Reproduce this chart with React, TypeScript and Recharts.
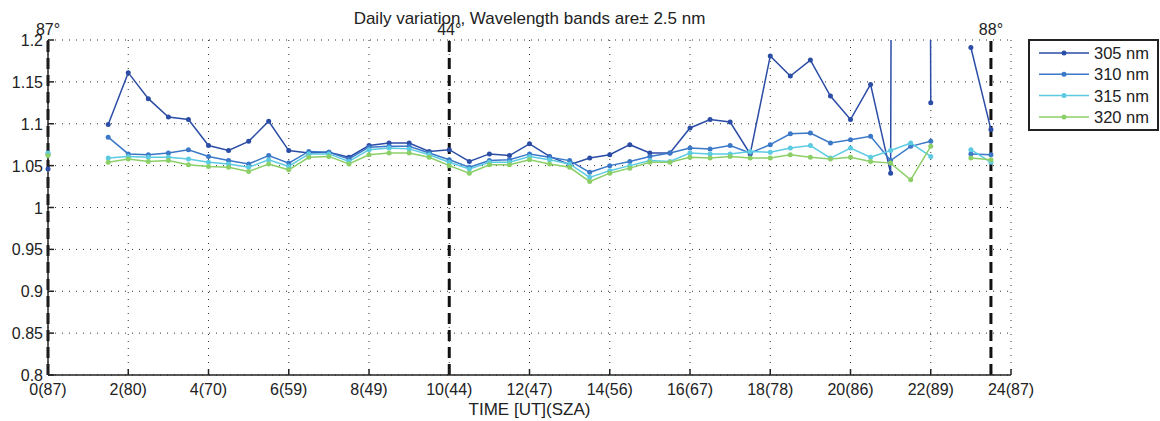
import React from 'react';
import {
  LineChart,
  Line,
  XAxis,
  YAxis,
  CartesianGrid,
  ReferenceLine,
} from 'recharts';

// time of day [UT], half-hour steps
const hours = [
  0, 0.5, 1, 1.5, 2, 2.5, 3, 3.5, 4, 4.5, 5, 5.5, 6, 6.5, 7, 7.5,
  8, 8.5, 9, 9.5, 10, 10.5, 11, 11.5, 12, 12.5, 13, 13.5, 14, 14.5, 15, 15.5,
  16, 16.5, 17, 17.5, 18, 18.5, 19, 19.5, 20, 20.5, 21, 21.5, 22, 22.5, 23, 23.5,
];

// ratio values, null = no measurement
const nm305 = [
  1.046, null, null, 1.099, 1.161, 1.13, 1.108, 1.105, 1.074, 1.068, 1.079, 1.103, 1.068, 1.065, 1.066, 1.06,
  1.074, 1.077, 1.077, 1.067, 1.069, 1.055, 1.064, 1.062, 1.076, 1.061, 1.051, 1.059, 1.063, 1.075, 1.065, 1.065,
  1.095, 1.105, 1.102, 1.064, 1.181, 1.157, 1.176, 1.133, 1.105, 1.147, 1.041, 9.0, 1.125, null, 1.191, 1.093,
];
const nm310 = [
  1.064, null, null, 1.084, 1.064, 1.063, 1.065, 1.069, 1.061, 1.056, 1.052, 1.062, 1.053, 1.067, 1.066, 1.058,
  1.072, 1.073, 1.073, 1.065, 1.057, 1.048, 1.056, 1.057, 1.064, 1.06, 1.056, 1.042, 1.05, 1.055, 1.061, 1.065,
  1.071, 1.07, 1.074, 1.065, 1.075, 1.088, 1.089, 1.077, 1.081, 1.085, 1.056, 1.073, 1.079, null, 1.064, 1.063,
];
const nm315 = [
  1.065, null, null, 1.059, 1.061, 1.06, 1.06, 1.058, 1.054, 1.052, 1.048, 1.057, 1.049, 1.064, 1.064, 1.055,
  1.069, 1.071, 1.07, 1.063, 1.054, 1.046, 1.054, 1.054, 1.061, 1.057, 1.052, 1.036, 1.044, 1.05, 1.056, 1.055,
  1.065, 1.064, 1.064, 1.067, 1.066, 1.071, 1.074, 1.059, 1.071, 1.06, 1.068, 1.077, 1.061, null, 1.069, 1.054,
];
const nm320 = [
  1.062, null, null, 1.054, 1.058, 1.055, 1.056, 1.051, 1.049, 1.048, 1.043, 1.052, 1.045, 1.06, 1.061, 1.052,
  1.063, 1.065, 1.065, 1.06, 1.05, 1.041, 1.051, 1.051, 1.057, 1.052, 1.048, 1.031, 1.041, 1.047, 1.054, 1.054,
  1.06, 1.059, 1.061, 1.059, 1.059, 1.063, 1.06, 1.058, 1.06, 1.055, 1.053, 1.033, 1.073, null, 1.059, 1.057,
];

const xTicks = [0, 2, 4, 6, 8, 10, 12, 14, 16, 18, 20, 22, 24];
const xTickLabels = ['0(87)', '2(80)', '4(70)', '6(59)', '8(49)', '10(44)', '12(47)', '14(56)', '16(67)', '18(78)', '20(86)', '22(89)', '24(87)'];
const yTicks = [0.8, 0.85, 0.9, 0.95, 1, 1.05, 1.1, 1.15, 1.2];

// dashed markers with the solar zenith angle above them
const markerTimes = [0, 10, 23.5];
const markerLabels = ['87°', '44°', '88°'];

const seriesNames = ['305 nm', '310 nm', '315 nm', '320 nm'];
const seriesKeys = ['nm305', 'nm310', 'nm315', 'nm320'];
const seriesColors = ['#2b4da6', '#3b78c8', '#5ccbe2', '#8ccf68'];

const data = hours.map((t, i) => ({
  t,
  nm305: nm305[i],
  nm310: nm310[i],
  nm315: nm315[i],
  nm320: nm320[i],
}));

const FONT = '"Liberation Sans", Arial, sans-serif';
const INK = '#222';

const BottomTick = (props: any) => {
  const { x, y, payload } = props;
  const idx = xTicks.indexOf(payload.value);
  return (
    <g>
      <line x1={x} y1={y} x2={x} y2={y - 6} stroke={INK} strokeWidth={1.5} />
      <text x={x} y={y + 20} textAnchor="middle" fontSize={16} fill={INK} fontFamily={FONT}>
        {xTickLabels[idx]}
      </text>
    </g>
  );
};

const TopTick = (props: any) => {
  const { x, y } = props;
  return <line x1={x} y1={y} x2={x} y2={y + 6} stroke={INK} strokeWidth={1.5} />;
};

const LeftTick = (props: any) => {
  const { x, y, payload } = props;
  return (
    <g>
      <line x1={x} y1={y} x2={x + 6} y2={y} stroke={INK} strokeWidth={1.5} />
      <text x={x - 5} y={y + 6} textAnchor="end" fontSize={16} fill={INK} fontFamily={FONT}>
        {String(payload.value)}
      </text>
    </g>
  );
};

const RightTick = (props: any) => {
  const { x, y } = props;
  return <line x1={x} y1={y} x2={x - 6} y2={y} stroke={INK} strokeWidth={1.5} />;
};

const LegendBox = () => (
  <div
    style={{
      position: 'absolute',
      left: 1028,
      top: 39,
      width: 127,
      height: 88,
      border: `2px solid ${INK}`,
      background: '#fff',
      fontFamily: FONT,
    }}
  >
    <svg width={127} height={88}>
      {seriesNames.map((name, i) => {
        const cy = 12 + i * 21.3;
        return (
          <g key={name}>
            <line x1={9} x2={59} y1={cy} y2={cy} stroke={seriesColors[i]} strokeWidth={1.5} />
            <circle cx={34} cy={cy} r={2.5} fill={seriesColors[i]} />
            <text x={64} y={cy + 6} fontSize={16.5} fill={INK} fontFamily={FONT}>
              {name}
            </text>
          </g>
        );
      })}
    </svg>
  </div>
);

export default function App() {
  return (
    <div style={{ position: 'absolute', left: 0, top: 0, width: 1160, height: 421, background: '#fff', fontFamily: FONT }}>
      <div
        style={{
          position: 'absolute',
          left: 48,
          width: 963,
          top: 9,
          textAlign: 'center',
          fontSize: 17,
          color: INK,
        }}
      >
        Daily variation, Wavelength bands are± 2.5 nm
      </div>
      <LineChart
        width={1160}
        height={421}
        data={data}
        margin={{ top: 40, right: 149, left: 0, bottom: 0 }}
      >
        <CartesianGrid stroke="#333" strokeDasharray="1 6" />
        <XAxis
          dataKey="t"
          type="number"
          domain={[0, 24]}
          ticks={xTicks}
          height={46}
          tickSize={0}
          tickMargin={0}
          tickLine={false}
          tick={<BottomTick />}
          axisLine={{ stroke: INK, strokeWidth: 1.5 }}
          interval={0}
        />
        <XAxis
          xAxisId="top"
          orientation="top"
          dataKey="t"
          type="number"
          domain={[0, 24]}
          ticks={xTicks}
          height={0}
          tickSize={0}
          tickMargin={0}
          tickLine={false}
          tick={<TopTick />}
          axisLine={{ stroke: INK, strokeWidth: 1.5 }}
          interval={0}
        />
        <YAxis
          type="number"
          domain={[0.8, 1.2]}
          ticks={yTicks}
          width={48}
          tickSize={0}
          tickMargin={0}
          tickLine={false}
          tick={<LeftTick />}
          axisLine={{ stroke: INK, strokeWidth: 1.5 }}
          allowDataOverflow
          interval={0}
        />
        <YAxis
          yAxisId="right"
          orientation="right"
          type="number"
          domain={[0.8, 1.2]}
          ticks={yTicks}
          width={0}
          tickSize={0}
          tickMargin={0}
          tickLine={false}
          tick={<RightTick />}
          axisLine={{ stroke: INK, strokeWidth: 1.5 }}
          allowDataOverflow
          interval={0}
        />
        {markerTimes.map((t, i) => (
          <ReferenceLine
            key={t}
            x={t}
            stroke="#111"
            strokeWidth={3}
            strokeDasharray="11 6"
            label={{ value: markerLabels[i], position: 'top', fontSize: 16, fill: INK, fontFamily: FONT }}
          />
        ))}
        {seriesKeys.map((k, i) => (
          <Line
            key={k}
            dataKey={k}
            name={seriesNames[i]}
            type="linear"
            stroke={seriesColors[i]}
            strokeWidth={1.5}
            dot={{ r: 2.5, fill: seriesColors[i], stroke: seriesColors[i], strokeWidth: 0 }}
            activeDot={false}
            connectNulls={false}
            isAnimationActive={false}
          />
        ))}
      </LineChart>
      <div
        style={{
          position: 'absolute',
          left: 48,
          width: 963,
          top: 400,
          textAlign: 'center',
          fontSize: 17,
          color: INK,
        }}
      >
        TIME [UT](SZA)
      </div>
      <LegendBox />
    </div>
  );
}
